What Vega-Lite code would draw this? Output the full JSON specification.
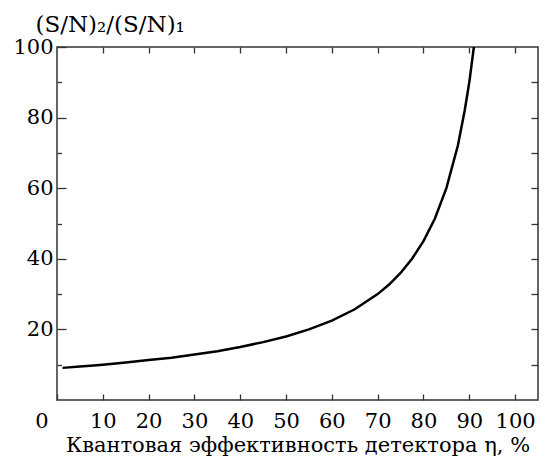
{
  "$schema": "https://vega.github.io/schema/vega-lite/v6.json",
  "width": 481,
  "height": 353,
  "autosize": "none",
  "padding": {"left": 57, "top": 47, "right": 11, "bottom": 57},
  "background": "white",
  "config": {
    "view": {"stroke": "#333333", "strokeWidth": 1.5},
    "font": "DejaVu Serif",
    "axis": {"domain": false, "grid": false, "tickColor": "#333333", "tickWidth": 1.3, "labelColor": "black", "titleColor": "black", "labelFont": "DejaVu Serif", "titleFont": "DejaVu Serif", "labelFontSize": 21, "titleFontSize": 21, "titleFontWeight": "normal"}
  },
  "data": {"values": [
    {"eta": 1.2, "ratio": 9.1}, {"eta": 5, "ratio": 9.5}, {"eta": 8, "ratio": 9.8}, {"eta": 10, "ratio": 10.0},
    {"eta": 15, "ratio": 10.6}, {"eta": 20, "ratio": 11.3}, {"eta": 25, "ratio": 12.0}, {"eta": 30, "ratio": 12.9},
    {"eta": 35, "ratio": 13.8}, {"eta": 40, "ratio": 15.0}, {"eta": 45, "ratio": 16.4}, {"eta": 50, "ratio": 18.0},
    {"eta": 55, "ratio": 20.0}, {"eta": 60, "ratio": 22.5}, {"eta": 65, "ratio": 25.7}, {"eta": 70, "ratio": 30.0},
    {"eta": 72.5, "ratio": 32.7}, {"eta": 75, "ratio": 36.0}, {"eta": 77.5, "ratio": 40.0}, {"eta": 80, "ratio": 45.0},
    {"eta": 82.5, "ratio": 51.4}, {"eta": 85, "ratio": 60.0}, {"eta": 87.5, "ratio": 72.0}, {"eta": 89, "ratio": 82.0},
    {"eta": 90, "ratio": 90.0}, {"eta": 91, "ratio": 100.0}
  ]},
  "resolve": {"axis": {"x": "independent", "y": "independent"}},
  "layer": [
    {
      "mark": {"type": "line", "color": "black", "strokeWidth": 2.5, "clip": true},
      "encoding": {
        "x": {"field": "eta", "type": "quantitative",
          "scale": {"domain": [0, 105], "nice": false, "zero": false},
          "axis": {"orient": "bottom", "values": [0, 10, 20, 30, 40, 50, 60, 70, 80, 90, 100], "tickSize": -6,
            "labelPadding": 16, "labelFlush": false, "labelOverlap": false,
            "labelAlign": {"condition": {"test": "datum.value == 0", "value": "right"}, "value": "center"},
            "labelOffset": {"condition": {"test": "datum.value == 0", "value": -9}, "value": 0},
            "title": "Квантовая эффективность детектора η, %", "titlePadding": 3}},
        "y": {"field": "ratio", "type": "quantitative",
          "scale": {"domain": [0, 100], "nice": false},
          "axis": {"orient": "left", "values": [20, 40, 60, 80, 100], "tickSize": -9, "labelPadding": 13,
            "title": "(S/N)₂/(S/N)₁", "titleFontSize": 23, "titleAngle": 0, "titleAlign": "left", "titleBaseline": "middle",
            "titleX": -22, "titleY": -23}}
      }
    },
    {
      "mark": {"type": "point", "opacity": 0},
      "encoding": {
        "x": {"field": "eta", "type": "quantitative", "scale": {"domain": [0, 105], "nice": false, "zero": false},
          "axis": {"orient": "top", "values": [10, 20, 30, 40, 50, 60, 70, 80, 90, 100], "tickSize": -6, "labels": false, "title": null}},
        "y": {"field": "ratio", "type": "quantitative", "scale": {"domain": [0, 100], "nice": false}, "axis": null}
      }
    },
    {
      "mark": {"type": "point", "opacity": 0},
      "encoding": {
        "x": {"field": "eta", "type": "quantitative", "scale": {"domain": [0, 105], "nice": false, "zero": false}, "axis": null},
        "y": {"field": "ratio", "type": "quantitative", "scale": {"domain": [0, 100], "nice": false},
          "axis": {"orient": "right", "values": [10, 20, 30, 40, 50, 60, 70, 80, 90], "tickSize": -7, "labels": false, "title": null}}
      }
    },
    {
      "mark": {"type": "point", "opacity": 0},
      "encoding": {
        "x": {"field": "eta", "type": "quantitative", "scale": {"domain": [0, 105], "nice": false, "zero": false}, "axis": null},
        "y": {"field": "ratio", "type": "quantitative", "scale": {"domain": [0, 100], "nice": false},
          "axis": {"orient": "left", "values": [10, 30, 50, 70, 90], "tickSize": -4.5, "labels": false, "title": null}}
      }
    }
  ]
}
